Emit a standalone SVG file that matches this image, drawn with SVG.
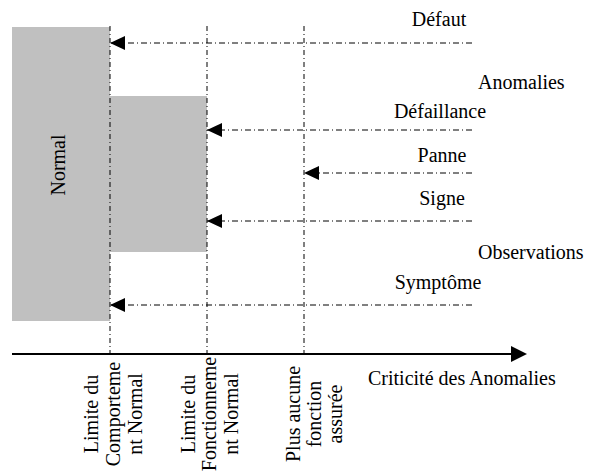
<svg xmlns="http://www.w3.org/2000/svg" width="593" height="475" viewBox="0 0 593 475">
<defs>
<style>
text{font-family:'Liberation Serif','Times New Roman',serif;font-size:20px;fill:#000}
.zone{fill:#c0c0c0;stroke:none}
.guide{stroke:#000;stroke-width:1;stroke-dasharray:5,3,1,3;fill:none}
.flow{stroke:#000;stroke-width:1;stroke-dasharray:6,3,1,3;fill:none}
.axis{stroke:#000;stroke-width:2;fill:none}
.mid{text-anchor:middle}
</style>
<marker id="ah" viewBox="0 0 15 14" refX="15" refY="7" markerWidth="15" markerHeight="14" markerUnits="userSpaceOnUse" orient="auto">
<path d="M0,0 L15,7 L0,14 Z" fill="#000"/>
</marker>
<marker id="axh" viewBox="0 0 16 16" refX="0" refY="8" markerWidth="16" markerHeight="16" markerUnits="userSpaceOnUse" orient="auto">
<path d="M0,0 L16,8 L0,16 Z" fill="#000"/>
</marker>
</defs>
<g id="zone-normal">
<rect class="zone" x="12" y="27" width="98" height="294"/>
<text class="mid" transform="translate(65,165) rotate(-90)">Normal</text>
</g>
<g id="zone-degrade">
<rect class="zone" x="110" y="96" width="97" height="156"/>
</g>
<g id="guides">
<line class="guide" x1="110" y1="26" x2="110" y2="354"/>
<line class="guide" x1="207" y1="26" x2="207" y2="354"/>
<line class="guide" x1="304" y1="26" x2="304" y2="354"/>
</g>
<g id="connectors">
<line class="flow" x1="472" y1="43" x2="110" y2="43" marker-end="url(#ah)"/>
<line class="flow" x1="472" y1="130" x2="207" y2="130" marker-end="url(#ah)"/>
<line class="flow" x1="472" y1="173" x2="304" y2="173" marker-end="url(#ah)"/>
<line class="flow" x1="472" y1="221" x2="207" y2="221" marker-end="url(#ah)"/>
<line class="flow" x1="472" y1="305" x2="110" y2="305" marker-end="url(#ah)"/>
<line class="axis" x1="12" y1="354" x2="511" y2="354" marker-end="url(#axh)"/>
</g>
<g id="label-defaut"><text class="mid" x="439" y="26">Défaut</text></g>
<g id="label-anomalies"><text x="478" y="89">Anomalies</text></g>
<g id="label-defaillance"><text class="mid" x="440" y="118">Défaillance</text></g>
<g id="label-panne"><text class="mid" x="442" y="162">Panne</text></g>
<g id="label-signe"><text class="mid" x="442" y="205">Signe</text></g>
<g id="label-observations"><text x="478" y="259">Observations</text></g>
<g id="label-symptome"><text class="mid" x="438" y="289">Symptôme</text></g>
<g id="label-criticite"><text x="368" y="385">Criticité des Anomalies</text></g>
<g id="label-limite-comportement">
<text class="mid" transform="translate(98,414) rotate(-90)">Limite du</text>
<text class="mid" transform="translate(120,414) rotate(-90)">Comporteme</text>
<text class="mid" transform="translate(142,414) rotate(-90)">nt Normal</text>
</g>
<g id="label-limite-fonctionnement">
<text class="mid" transform="translate(195,414) rotate(-90)">Limite du</text>
<text class="mid" transform="translate(216,414) rotate(-90)">Fonctionneme</text>
<text class="mid" transform="translate(238,414) rotate(-90)">nt Normal</text>
</g>
<g id="label-plus-aucune">
<text class="mid" transform="translate(300,414) rotate(-90)">Plus aucune</text>
<text class="mid" transform="translate(321,414) rotate(-90)">fonction</text>
<text class="mid" transform="translate(342,414) rotate(-90)">assurée</text>
</g>
</svg>
